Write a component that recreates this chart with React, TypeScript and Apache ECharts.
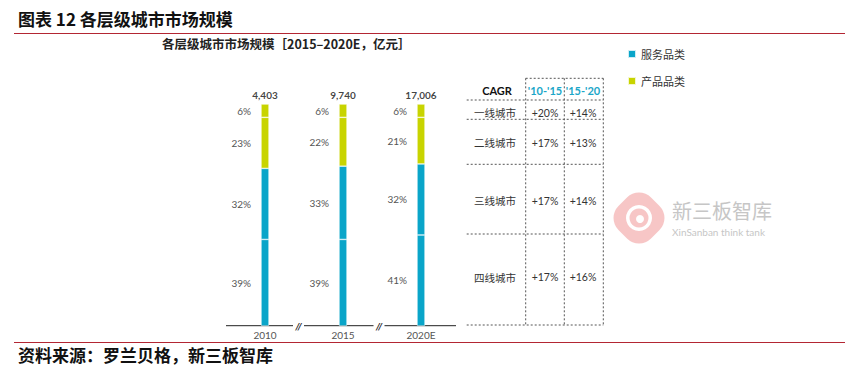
import React, { useEffect, useRef } from "react";
import * as echarts from "echarts";

const categories = ["2010", "2015", "2020E"];
const totals = ["4,403", "9,740", "17,006"];
const tier4Share = [39, 39, 41];
const tier3Share = [32, 33, 32];
const tier2Share = [23, 22, 21];
const tier1Share = [6, 6, 6];
const legendNames = ["服务品类", "产品品类"];
const tierNames = ["一线城市", "二线城市", "三线城市", "四线城市"];
const cagrHeaders = ["CAGR", "'10-'15", "'15-'20"];
const cagr1015 = ["+20%", "+17%", "+17%", "+17%"];
const cagr1520 = ["+14%", "+13%", "+14%", "+16%"];

const BLUE = "#0aa5c9";
const GREEN = "#c8d400";
const RED = "#b32633";
const NUM_FONT = 'Lato, "Noto Sans", "Noto Sans CJK SC", sans-serif';
const CJK_FONT = '"Noto Sans CJK SC", sans-serif';

export default function App() {
  const ref = useRef<HTMLDivElement>(null);
  useEffect(() => {
    if (!ref.current) return;
    const chart = echarts.init(ref.current, undefined, { renderer: "svg" });

    const segLabel = {
      show: true,
      position: "left",
      distance: 10,
      formatter: "{c}%",
      color: "#555",
      fontSize: 10,
      fontFamily: NUM_FONT,
    };
    const itemStyle = (c: string) => ({ color: c, borderColor: "rgba(255,255,255,0.8)", borderWidth: 0.6 });

    // table geometry (layout only)
    const colX = [525.7, 564.3, 603.3];
    const tableLeft = 466.7;
    const tableTop = 78.3;
    const rowLines = [100, 119.3, 164.3, 234, 325];
    const headerY = 90;
    const rowY = [112.7, 142.7, 200.7, 277.3];
    const textCol = [495, 545, 583];
    const dash = { stroke: "#555", lineWidth: 1, lineDash: [2, 2] };

    const graphics: any[] = [
      { type: "text", left: 18, top: 10, style: { text: "图表 12 各层级城市市场规模", font: `bold 17px ${CJK_FONT}`, fill: "#111" } },
      { type: "line", shape: { x1: 14, y1: 33.5, x2: 845, y2: 33.5 }, style: { stroke: RED, lineWidth: 1 } },
      { type: "text", left: 162, top: 37, style: { text: "各层级城市市场规模［2015–2020E，亿元］", font: `bold 12.5px ${CJK_FONT}`, fill: "#222" } },
      { type: "line", shape: { x1: 14, y1: 342.5, x2: 845, y2: 342.5 }, style: { stroke: RED, lineWidth: 1 } },
      { type: "text", left: 18, top: 346, style: { text: "资料来源：罗兰贝格，新三板智库", font: `bold 17px ${CJK_FONT}`, fill: "#111" } },
      // axis baseline with breaks
      { type: "line", shape: { x1: 226, y1: 325.7, x2: 456, y2: 325.7 }, style: { stroke: "#222", lineWidth: 1 } },
      ...[298.5, 379].map((x) => ({
        type: "group",
        x,
        y: 325.7,
        children: [
          { type: "rect", shape: { x: -5.5, y: -3, width: 11, height: 6 }, style: { fill: "#fff" } },
          { type: "text", style: { text: "//", x: 0, y: 0.5, align: "center", verticalAlign: "middle", font: `italic bold 10px ${NUM_FONT}`, fill: "#222" } },
        ],
      })),
      // table lines
      { type: "line", shape: { x1: colX[0], y1: tableTop, x2: colX[2], y2: tableTop }, style: dash },
      ...rowLines.map((y) => ({ type: "line", shape: { x1: tableLeft, y1: y, x2: colX[2], y2: y }, style: dash })),
      ...colX.map((x) => ({ type: "line", shape: { x1: x, y1: tableTop, x2: x, y2: rowLines[rowLines.length - 1] }, style: dash })),
      // header
      { type: "text", style: { text: cagrHeaders[0], x: textCol[0] + 2, y: headerY, align: "center", verticalAlign: "middle", font: `bold 11px ${NUM_FONT}`, fill: "#111" } },
      { type: "text", style: { text: cagrHeaders[1], x: textCol[1], y: headerY, align: "center", verticalAlign: "middle", font: `bold 11px ${NUM_FONT}`, fill: "#1ba6c8" } },
      { type: "text", style: { text: cagrHeaders[2], x: textCol[2], y: headerY, align: "center", verticalAlign: "middle", font: `bold 11px ${NUM_FONT}`, fill: "#1ba6c8" } },
      ...tierNames.flatMap((name, i) => [
        { type: "text", style: { text: name, x: textCol[0], y: rowY[i], align: "center", verticalAlign: "middle", font: `10.5px ${CJK_FONT}`, fill: "#333" } },
        { type: "text", style: { text: cagr1015[i], x: textCol[1], y: rowY[i], align: "center", verticalAlign: "middle", font: `10.5px ${NUM_FONT}`, fill: "#333" } },
        { type: "text", style: { text: cagr1520[i], x: textCol[2], y: rowY[i], align: "center", verticalAlign: "middle", font: `10.5px ${NUM_FONT}`, fill: "#333" } },
      ]),
      // watermark
      {
        type: "group",
        x: 639,
        y: 218,
        children: [
          { type: "rect", shape: { x: -23, y: -23, width: 46, height: 46, r: 17 }, rotation: Math.PI / 4, style: { fill: "#f7c6c6" } },
          { type: "ring", shape: { cx: 0, cy: 0, r: 13, r0: 9.5 }, style: { fill: "#fff" } },
          { type: "circle", shape: { cx: 1, cy: 1, r: 4 }, style: { fill: "#fff" } },
        ],
      },
      { type: "text", style: { text: "新三板智库", x: 672, y: 210, verticalAlign: "middle", font: `20px ${CJK_FONT}`, fill: "#c6c6c6" } },
      { type: "text", style: { text: "XinSanban think tank", x: 672, y: 231.5, verticalAlign: "middle", font: `10px ${NUM_FONT}`, fill: "#c6c6c6" } },
    ];

    chart.setOption({
      animation: false,
      backgroundColor: "#fff",
      grid: { left: 226, top: 104, width: 234, height: 222, containLabel: false },
      legend: {
        data: legendNames,
        orient: "vertical",
        left: 622,
        top: 43,
        icon: "rect",
        itemWidth: 8,
        itemHeight: 8,
        itemGap: 15,
        textStyle: { fontSize: 11, color: "#333", fontFamily: CJK_FONT, lineHeight: 12 },
      },
      xAxis: {
        type: "category",
        data: categories,
        axisLine: { show: false },
        axisTick: { show: false },
        axisLabel: { color: "#555", fontSize: 10, fontFamily: NUM_FONT, margin: 4 },
      },
      yAxis: { type: "value", min: 0, max: 100, show: false },
      series: [
        { name: legendNames[0], type: "bar", stack: "s", barWidth: 8, data: tier4Share, itemStyle: itemStyle(BLUE), label: segLabel },
        { name: legendNames[0], type: "bar", stack: "s", barWidth: 8, data: tier3Share, itemStyle: itemStyle(BLUE), label: segLabel },
        { name: legendNames[1], type: "bar", stack: "s", barWidth: 8, data: tier2Share, itemStyle: itemStyle(GREEN), label: segLabel },
        { name: legendNames[1], type: "bar", stack: "s", barWidth: 8, data: tier1Share, itemStyle: itemStyle(GREEN), label: segLabel },
        {
          name: "total",
          type: "scatter",
          symbolSize: 0,
          data: categories.map((c) => [c, 100]),
          label: {
            show: true,
            position: "top",
            distance: 4,
            formatter: (p: any) => totals[p.dataIndex],
            color: "#111",
            fontSize: 10,
            fontWeight: "bold",
            fontFamily: NUM_FONT,
          },
          silent: true,
        },
      ],
      graphic: graphics,
    });
    return () => chart.dispose();
  }, []);
  return <div ref={ref} style={{ position: "fixed", left: 0, top: 0, width: 862, height: 371 }} />;
}
